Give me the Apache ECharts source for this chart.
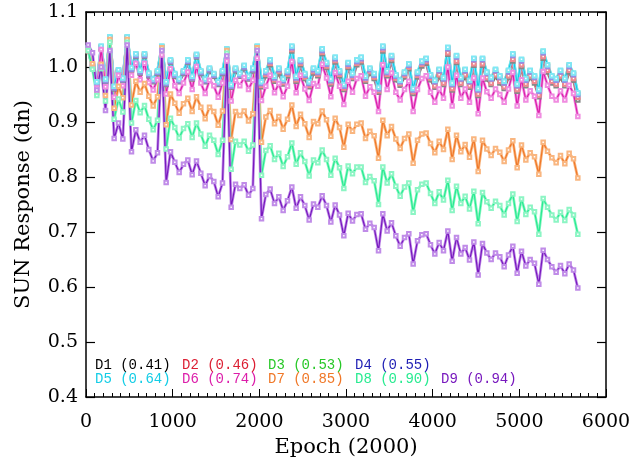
<!DOCTYPE html>
<html><head><meta charset="utf-8">
<script src="https://cdn.jsdelivr.net/npm/echarts@6/dist/echarts.min.js"></script>
<style>html,body{margin:0;padding:0;background:#fff}#c{width:634px;height:458px}</style>
</head><body><div id="c"></div>
<script>
var epochs=[25,75,125,175,225,275,325,375,425,475,525,575,625,675,725,775,825,875,925,975,1025,1075,1125,1175,1225,1275,1325,1375,1425,1475,1525,1575,1625,1675,1725,1775,1825,1875,1925,1975,2025,2075,2125,2175,2225,2275,2325,2375,2425,2475,2525,2575,2625,2675,2725,2775,2825,2875,2925,2975,3025,3075,3125,3175,3225,3275,3325,3375,3425,3475,3525,3575,3625,3675,3725,3775,3825,3875,3925,3975,4025,4075,4125,4175,4225,4275,4325,4375,4425,4475,4525,4575,4625,4675,4725,4775,4825,4875,4925,4975,5025,5075,5125,5175,5225,5275,5325,5375,5425,5475,5525,5575,5625,5675];
var D1=[1.030,0.998,0.968,1.033,0.973,1.050,0.960,0.990,0.975,1.050,
0.994,1.019,0.989,1.019,0.984,0.973,0.988,1.033,0.968,1.008,
0.983,0.973,0.988,1.008,0.978,1.018,0.988,0.973,0.993,0.983,
0.968,0.988,1.028,0.963,0.993,0.983,0.998,0.978,0.993,1.033,
0.964,0.984,1.004,0.974,0.989,0.969,0.984,1.029,0.974,1.004,
0.979,0.964,0.989,0.984,1.024,0.999,0.969,1.009,0.984,0.959,
0.999,0.979,1.004,1.009,0.974,0.989,0.979,0.954,1.029,0.984,
1.012,0.977,0.967,0.982,0.997,0.952,0.982,1.002,1.007,0.977,
0.963,0.983,0.968,1.023,0.958,1.008,0.968,0.983,0.963,1.003,
0.948,1.003,0.978,0.968,0.983,0.971,0.961,0.981,1.011,0.956,
1.001,0.966,0.981,0.971,0.946,1.016,0.991,0.971,0.966,0.981,
0.966,0.991,0.976,0.940];
var D2=[1.033,1.001,0.971,1.036,0.976,1.053,0.963,0.993,0.978,1.053,
0.997,1.022,0.992,1.022,0.987,0.976,0.991,1.036,0.971,1.011,
0.986,0.976,0.991,1.011,0.981,1.021,0.991,0.976,0.996,0.986,
0.971,0.991,1.031,0.966,0.996,0.986,1.001,0.981,0.996,1.036,
0.967,0.987,1.007,0.977,0.992,0.972,0.987,1.032,0.977,1.007,
0.982,0.967,0.992,0.987,1.027,1.002,0.972,1.012,0.987,0.962,
1.002,0.982,1.007,1.012,0.977,0.992,0.982,0.957,1.032,0.987,
1.015,0.980,0.970,0.985,1.000,0.955,0.985,1.005,1.010,0.980,
0.966,0.986,0.971,1.026,0.961,1.011,0.971,0.986,0.966,1.006,
0.951,1.006,0.981,0.971,0.986,0.974,0.964,0.984,1.014,0.959,
1.004,0.969,0.984,0.974,0.949,1.019,0.994,0.974,0.969,0.984,
0.969,0.994,0.979,0.945];
var D3=[1.034,1.002,0.972,1.037,0.977,1.054,0.964,0.994,0.979,1.054,
0.998,1.023,0.993,1.023,0.988,0.977,0.992,1.037,0.972,1.012,
0.987,0.977,0.992,1.012,0.982,1.022,0.992,0.977,0.997,0.987,
0.972,0.992,1.032,0.967,0.997,0.987,1.002,0.982,0.997,1.037,
0.972,0.992,1.012,0.982,0.997,0.977,0.992,1.037,0.982,1.012,
0.987,0.972,0.997,0.992,1.032,1.007,0.977,1.017,0.992,0.967,
1.007,0.987,1.012,1.017,0.982,0.997,0.987,0.962,1.037,0.992,
1.020,0.985,0.975,0.990,1.005,0.960,0.990,1.010,1.015,0.985,
0.975,0.995,0.980,1.035,0.970,1.020,0.980,0.995,0.975,1.015,
0.960,1.015,0.990,0.980,0.995,0.983,0.973,0.993,1.023,0.968,
1.013,0.978,0.993,0.983,0.958,1.028,1.003,0.983,0.978,0.993,
0.978,1.003,0.988,0.952];
var D4=[1.032,1.000,0.970,1.035,0.975,1.052,0.962,0.992,0.977,1.052,
0.996,1.021,0.991,1.021,0.986,0.975,0.990,1.035,0.970,1.010,
0.985,0.975,0.990,1.010,0.980,1.020,0.990,0.975,0.995,0.985,
0.970,0.990,1.030,0.965,0.995,0.985,1.000,0.980,0.995,1.035,
0.970,0.990,1.010,0.980,0.995,0.975,0.990,1.035,0.980,1.010,
0.985,0.970,0.995,0.990,1.030,1.005,0.975,1.015,0.990,0.965,
1.005,0.985,1.010,1.015,0.980,0.995,0.985,0.960,1.035,0.990,
1.018,0.983,0.973,0.988,1.003,0.958,0.988,1.008,1.013,0.983,
0.973,0.993,0.978,1.033,0.968,1.018,0.978,0.993,0.973,1.013,
0.958,1.013,0.988,0.978,0.993,0.981,0.971,0.991,1.021,0.966,
1.011,0.976,0.991,0.981,0.956,1.026,1.001,0.981,0.976,0.991,
0.976,1.001,0.986,0.950];
var D5=[1.035,1.003,0.973,1.038,0.978,1.055,0.965,0.995,0.980,1.055,
0.999,1.024,0.994,1.024,0.989,0.978,0.993,1.038,0.973,1.013,
0.988,0.978,0.993,1.013,0.983,1.023,0.993,0.978,0.998,0.988,
0.973,0.993,1.033,0.968,0.998,0.988,1.003,0.983,0.998,1.038,
0.973,0.993,1.013,0.983,0.998,0.978,0.993,1.038,0.983,1.013,
0.988,0.973,0.998,0.993,1.033,1.008,0.978,1.018,0.993,0.968,
1.008,0.988,1.013,1.018,0.983,0.998,0.988,0.963,1.038,0.993,
1.021,0.986,0.976,0.991,1.006,0.961,0.991,1.011,1.016,0.986,
0.976,0.996,0.981,1.036,0.971,1.021,0.981,0.996,0.976,1.016,
0.961,1.016,0.991,0.981,0.996,0.984,0.974,0.994,1.024,0.969,
1.014,0.979,0.994,0.984,0.959,1.029,1.004,0.984,0.979,0.994,
0.979,1.004,0.989,0.953];
var D6=[1.030,1.005,0.962,1.032,0.964,1.048,0.945,0.985,0.966,1.045,
0.985,1.007,0.977,1.007,0.972,0.958,0.977,1.022,0.951,0.997,
0.966,0.952,0.971,0.991,0.959,1.001,0.971,0.952,0.976,0.966,
0.945,0.971,1.011,0.938,0.976,0.966,0.981,0.959,0.976,1.016,
0.939,0.965,0.985,0.953,0.970,0.946,0.965,1.010,0.953,0.985,
0.960,0.939,0.970,0.965,1.005,0.980,0.946,0.990,0.965,0.932,
0.974,0.954,0.979,0.984,0.947,0.964,0.954,0.919,1.004,0.959,
0.989,0.954,0.940,0.959,0.974,0.919,0.959,0.979,0.984,0.954,
0.936,0.960,0.943,1.000,0.929,0.985,0.943,0.960,0.936,0.980,
0.915,0.980,0.955,0.943,0.960,0.950,0.936,0.960,0.990,0.929,
0.977,0.940,0.957,0.947,0.912,0.992,0.967,0.947,0.940,0.957,
0.940,0.967,0.952,0.910];
var D7=[1.030,1.006,0.953,1.005,0.948,1.050,0.925,0.965,0.944,1.050,
0.931,0.974,0.954,0.970,0.947,0.929,0.946,1.035,0.895,0.951,
0.934,0.916,0.933,0.943,0.919,0.946,0.927,0.906,0.927,0.919,
0.894,0.920,1.030,0.868,0.919,0.912,0.920,0.902,0.915,1.035,
0.863,0.909,0.921,0.897,0.910,0.887,0.905,0.931,0.892,0.914,
0.897,0.872,0.901,0.897,0.920,0.904,0.874,0.907,0.890,0.854,
0.896,0.883,0.896,0.898,0.870,0.883,0.875,0.834,0.903,0.875,
0.892,0.869,0.852,0.870,0.878,0.825,0.867,0.878,0.880,0.861,
0.844,0.865,0.850,0.887,0.832,0.876,0.846,0.859,0.836,0.869,
0.810,0.867,0.851,0.839,0.852,0.845,0.828,0.849,0.866,0.817,
0.858,0.831,0.844,0.837,0.805,0.863,0.847,0.835,0.826,0.839,
0.824,0.843,0.833,0.798];
var D8=[1.030,0.996,0.948,0.997,0.938,1.045,0.905,0.942,0.918,1.045,
0.898,0.939,0.917,0.930,0.905,0.886,0.903,1.030,0.851,0.907,
0.890,0.871,0.888,0.897,0.872,0.898,0.878,0.856,0.876,0.867,
0.841,0.867,1.025,0.814,0.865,0.858,0.865,0.847,0.858,1.030,
0.803,0.848,0.857,0.832,0.843,0.819,0.837,0.862,0.823,0.844,
0.828,0.802,0.831,0.826,0.849,0.832,0.803,0.834,0.817,0.779,
0.820,0.806,0.818,0.818,0.790,0.801,0.793,0.750,0.818,0.789,
0.806,0.783,0.765,0.782,0.789,0.736,0.777,0.787,0.789,0.770,
0.752,0.773,0.758,0.794,0.739,0.783,0.752,0.765,0.742,0.774,
0.715,0.772,0.755,0.743,0.756,0.748,0.731,0.752,0.769,0.719,
0.760,0.732,0.745,0.737,0.696,0.761,0.745,0.731,0.722,0.736,
0.721,0.741,0.731,0.696];
var D9=[1.040,1.026,0.958,1.000,0.921,1.030,0.870,0.898,0.869,1.040,
0.846,0.886,0.863,0.876,0.850,0.829,0.844,1.030,0.790,0.846,
0.827,0.808,0.823,0.831,0.804,0.829,0.807,0.784,0.802,0.792,
0.764,0.789,1.020,0.745,0.787,0.779,0.786,0.767,0.779,1.030,
0.724,0.768,0.778,0.752,0.764,0.739,0.757,0.782,0.743,0.764,
0.748,0.722,0.751,0.745,0.766,0.748,0.718,0.749,0.731,0.693,
0.734,0.720,0.732,0.733,0.705,0.716,0.708,0.666,0.733,0.702,
0.717,0.693,0.674,0.690,0.697,0.642,0.684,0.695,0.697,0.677,
0.660,0.681,0.666,0.702,0.647,0.690,0.660,0.672,0.649,0.682,
0.622,0.679,0.662,0.650,0.662,0.655,0.637,0.658,0.674,0.625,
0.665,0.638,0.650,0.643,0.605,0.667,0.650,0.637,0.627,0.639,
0.624,0.642,0.631,0.598];
var names=['D1','D2','D3','D4','D5','D6','D7','D8','D9'];
var tags=['(0.41)','(0.46)','(0.53)','(0.55)','(0.64)','(0.74)','(0.85)','(0.90)','(0.94)'];
var xTicks=[0,1000,2000,3000,4000,5000,6000];
var yTicks=[0.4,0.5,0.6,0.7,0.8,0.9,1.0,1.1];
var xTitle='Epoch (2000)';
var yTitle='SUN Response (dn)';

var values=[D1,D2,D3,D4,D5,D6,D7,D8,D9];
var lineColors=['#000000','#dc1e32','#28c828','#1e1eb4','#14cde6','#dc1eaa','#f07828','#28eb91','#7819be'];
var markColors=['#888888','#f08890','#90e890','#9090e8','#80e8f5','#f08ce0','#f9b680','#8cf5c4','#c08ce8'];

var chart=echarts.init(document.getElementById('c'),null,{renderer:'canvas'});
var serif='DejaVu Serif';
var series=[];
values.forEach(function(v,k){
  var pts=epochs.map(function(e,i){return [e,v[i]];});
  series.push({type:'line',name:names[k]+' halo',xAxisIndex:0,yAxisIndex:0,data:pts,
    symbol:'emptyRect',symbolSize:3.5,showAllSymbol:true,
    lineStyle:{color:markColors[k],width:2.8},
    itemStyle:{color:markColors[k],borderColor:markColors[k],borderWidth:0.9},
    emphasis:{disabled:true},silent:true,z:2});
  series.push({type:'line',name:names[k],xAxisIndex:0,yAxisIndex:0,data:pts,
    symbol:'none',lineStyle:{color:lineColors[k],width:1.2},
    emphasis:{disabled:true},silent:true,z:2});
});
var graphics=[];
var legX=[95,182,268,355,441];
names.forEach(function(n,k){
  var row=k<4?0:1, col=k<4?k:k-4;
  graphics.push({type:'text',left:legX[col],top:row===0?358:372,
    style:{text:n+' '+tags[k],fill:lineColors[k],font:'14px "Liberation Mono"'},z:100});
});
var xBase={type:'value',min:xTicks[0],max:xTicks[xTicks.length-1],interval:1000,
  splitLine:{show:false},
  axisLine:{show:true,onZero:false,lineStyle:{color:'#000',width:1.5}},
  axisTick:{show:true,inside:true,length:8,lineStyle:{color:'#000',width:1}}};
var xMinor={type:'value',min:xTicks[0],max:xTicks[xTicks.length-1],interval:100,
  splitLine:{show:false},axisLabel:{show:false},
  axisLine:{show:false,onZero:false},
  axisTick:{show:true,inside:true,length:4,lineStyle:{color:'#000',width:1}}};
var yBase={type:'value',min:yTicks[0],max:yTicks[yTicks.length-1],interval:0.1,
  splitLine:{show:false},
  axisLine:{show:true,onZero:false,lineStyle:{color:'#000',width:1.5}},
  axisTick:{show:true,inside:true,length:9,lineStyle:{color:'#000',width:1.2}}};
chart.setOption({
  animation:false,backgroundColor:'#fff',
  grid:{left:86,right:28,top:12,bottom:61,containLabel:false,outerBoundsMode:'none'},
  xAxis:[Object.assign({},xBase,{position:'bottom',name:xTitle,nameLocation:'middle',nameGap:37,
      nameTextStyle:{fontFamily:serif,fontSize:21,color:'#000'},
      axisLabel:{show:true,margin:16,fontFamily:serif,fontSize:19,color:'#000',
        formatter:function(v){return String(v);}}}),
    Object.assign({},xBase,{position:'top',axisLabel:{show:false}}),
    Object.assign({},xMinor,{position:'bottom'}),
    Object.assign({},xMinor,{position:'top'})],
  yAxis:[Object.assign({},yBase,{position:'left',name:yTitle,nameLocation:'middle',nameGap:52,
      nameTextStyle:{fontFamily:serif,fontSize:21,color:'#000'},
      axisLabel:{show:true,margin:8,fontFamily:serif,fontSize:19,color:'#000',
        formatter:function(v){return v.toFixed(1);}}}),
    Object.assign({},yBase,{position:'right',axisLabel:{show:false}})],
  series:series,
  graphic:graphics
});
</script></body></html>
